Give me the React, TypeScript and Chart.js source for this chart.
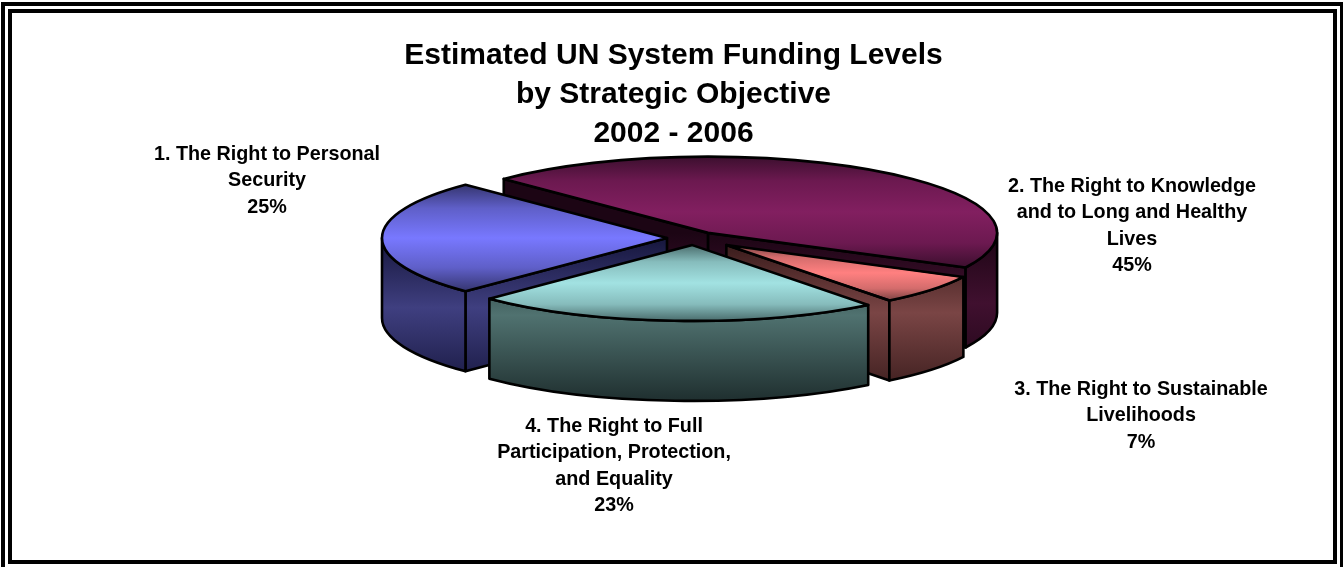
import React, { useEffect, useRef } from "react";
import { Chart, registerables, Plugin } from "chart.js";

Chart.register(...registerables);

const FONT = '"Liberation Sans", Arial, sans-serif';

// Funding shares by strategic objective, percent
const objectives = [
  ["1. The Right to Personal", "Security"],
  ["2. The Right to Knowledge", "and to Long and Healthy", "Lives"],
  ["3. The Right to Sustainable", "Livelihoods"],
  ["4. The Right to Full", "Participation, Protection,", "and Equality"],
];
const shares = [25, 45, 7, 23];
const titleLines = ["Estimated UN System Funding Levels", "by Strategic Objective", "2002 - 2006"];

// Slice styling
const explode = [27, 24, 42, 27];
const radii = [285, 289, 266, 287];
const topBright = ["#7878ff", "#821f60", "#ff8080", "#a2e2e2"];
const topShoulder = ["#5f5fc8", "#6c1950", "#d46c6c", "#86bcbc"];
const topDark = ["#35356f", "#3c0f2e", "#7a4242", "#4a6c6c"];
const wallMid = ["#3f3f80", "#40102f", "#7a4545", "#507270"];
const wallDark = ["#16163c", "#1c0514", "#3a1c1c", "#1f2f2f"];

// Label block centre and first baseline
const labelAt = [
  [267, 160],
  [1132, 192],
  [1141, 395],
  [614, 432],
];
const LABEL_LEADING = 26.4;

// Projection of the flat pie onto the tilted plane
const PIVOT_X = 694;
const PIVOT_Y = 238;
const TILT = 0.264;
const DEPTH = 80;
const ROTATION = 225;
const WALL_ORDER = [1, 0, 2, 3];

const TWO_PI = Math.PI * 2;
const rad = (d: number) => (d * Math.PI) / 180;

function sliceAngles(index: number) {
  const total = shares.reduce((a, b) => a + b, 0);
  let start = rad(ROTATION - 90);
  for (let i = 0; i < index; i++) start += (shares[i] / total) * TWO_PI;
  return { start, end: start + (shares[index] / total) * TWO_PI };
}

function verticalExtent(index: number) {
  const { start, end } = sliceAngles(index);
  const r = radii[index];
  let min = Math.min(0, r * Math.sin(start), r * Math.sin(end));
  let max = Math.max(0, r * Math.sin(start), r * Math.sin(end));
  for (let k = -2; k < 5; k++) {
    const top = -Math.PI / 2 + k * TWO_PI;
    const bottom = Math.PI / 2 + k * TWO_PI;
    if (top > start && top < end) min = -r;
    if (bottom > start && bottom < end) max = r;
  }
  return { min, max };
}

function topFill(ctx: any) {
  const i = ctx.dataIndex;
  const area = ctx.chart.chartArea;
  if (i === undefined || i < 0 || !area) return "#000";
  const cy = (area.top + area.bottom) / 2;
  const { min, max } = verticalExtent(i);
  const g = ctx.chart.ctx.createLinearGradient(0, cy + min, 0, cy + max);
  g.addColorStop(0, topDark[i]);
  g.addColorStop(0.22, topShoulder[i]);
  g.addColorStop(0.5, topBright[i]);
  g.addColorStop(0.78, topShoulder[i]);
  g.addColorStop(1, topDark[i]);
  return g;
}

// Screen-space geometry of a slice's top face, read from its arc element
function faceOf(chart: any, i: number) {
  const arc = chart.getDatasetMeta(0).data[i];
  const { startAngle, endAngle } = arc.getProps(["startAngle", "endAngle"], true);
  const mid = (startAngle + endAngle) / 2;
  const r = radii[i];
  // ArcElement shifts a slice by a quarter of its offset option
  const off = arc.options.offset / 4;
  return {
    x: PIVOT_X + Math.cos(mid) * off,
    y: PIVOT_Y + Math.sin(mid) * off * TILT,
    start: startAngle,
    end: endAngle,
    rx: r,
    ry: r * TILT,
  };
}

const rimPoint = (f: any, a: number) => [f.x + f.rx * Math.cos(a), f.y + f.ry * Math.sin(a)];

function wallFill(c: CanvasRenderingContext2D, f: any, i: number) {
  const top = f.y;
  const g = c.createLinearGradient(0, top, 0, top + f.ry + DEPTH);
  g.addColorStop(0, wallDark[i]);
  g.addColorStop(0.45, wallMid[i]);
  g.addColorStop(1, wallDark[i]);
  return g;
}

function paintWall(c: CanvasRenderingContext2D, fill: CanvasGradient) {
  c.fillStyle = fill;
  c.fill();
  c.strokeStyle = "#000";
  c.lineWidth = 2.6;
  c.lineJoin = "round";
  c.stroke();
}

function drawRadialWall(c: CanvasRenderingContext2D, f: any, angle: number, fill: CanvasGradient) {
  const [px, py] = rimPoint(f, angle);
  c.beginPath();
  c.moveTo(f.x, f.y);
  c.lineTo(px, py);
  c.lineTo(px, py + DEPTH);
  c.lineTo(f.x, f.y + DEPTH);
  c.closePath();
  paintWall(c, fill);
}

function drawOuterWall(c: CanvasRenderingContext2D, f: any, fill: CanvasGradient) {
  // Only the part of the rim facing the viewer (sin > 0) is visible
  for (let k = -1; k < 3; k++) {
    const a0 = Math.max(f.start, k * TWO_PI);
    const a1 = Math.min(f.end, k * TWO_PI + Math.PI);
    if (a1 <= a0) continue;
    c.beginPath();
    c.ellipse(f.x, f.y, f.rx, f.ry, 0, a0, a1);
    c.ellipse(f.x, f.y + DEPTH, f.rx, f.ry, 0, a1, a0, true);
    c.closePath();
    paintWall(c, fill);
  }
}

const piePlugin: Plugin = {
  id: "tiltedPie",
  afterDatasetUpdate(chart: any) {
    chart.getDatasetMeta(0).data.forEach((arc: any, i: number) => {
      // The element adds offset/4 * (1 - sin(sweep)) to its radius when drawn
      const sweep = (shares[i] / 100) * TWO_PI;
      const fix = 1 - Math.sin(Math.min(Math.PI, sweep));
      arc.outerRadius = radii[i] - explode[i] * fix;
    });
  },
  beforeDraw(chart: any) {
    // Double frame round the page; the outer line runs past the bottom edge
    const c = chart.ctx;
    c.save();
    c.fillStyle = "#fff";
    c.fillRect(0, 0, chart.width, chart.height);
    c.strokeStyle = "#000";
    c.lineWidth = 4;
    c.strokeRect(3, 4, 1339, 570);
    c.strokeRect(10, 11, 1325, 551);
    c.restore();
  },
  beforeDatasetsDraw(chart: any) {
    const c = chart.ctx;
    c.save();
    WALL_ORDER.forEach((i) => {
      const f = faceOf(chart, i);
      const fill = wallFill(c, f, i);
      if (Math.cos(f.start) < 0) drawRadialWall(c, f, f.start, fill);
      if (Math.cos(f.end) > 0) drawRadialWall(c, f, f.end, fill);
      drawOuterWall(c, f, fill);
    });
    c.restore();
    // The flat arcs are squashed onto the tilted plane while the library draws them
    const arc = chart.getDatasetMeta(0).data[0];
    c.save();
    c.translate(PIVOT_X, PIVOT_Y);
    c.scale(1, TILT);
    c.translate(-arc.x, -arc.y);
  },
  afterDatasetsDraw(chart: any) {
    const c = chart.ctx;
    c.restore();
    c.save();
    // Outlines are stroked untransformed so the pen keeps an even width
    shares.forEach((_, i) => {
      const f = faceOf(chart, i);
      c.beginPath();
      c.moveTo(f.x, f.y);
      c.ellipse(f.x, f.y, f.rx, f.ry, 0, f.start, f.end);
      c.closePath();
      c.strokeStyle = "#000";
      c.lineWidth = 2.6;
      c.lineJoin = "round";
      c.stroke();
    });
    c.fillStyle = "#000";
    c.font = `bold 19.75px ${FONT}`;
    c.textAlign = "center";
    c.textBaseline = "alphabetic";
    objectives.forEach((lines, i) => {
      const [x, y] = labelAt[i];
      [...lines, `${shares[i]}%`].forEach((text, n) => {
        c.fillText(text, x, y + n * LABEL_LEADING);
      });
    });
    c.restore();
  },
};

export default function App() {
  const ref = useRef<HTMLCanvasElement>(null);
  useEffect(() => {
    const chart = new Chart(ref.current as HTMLCanvasElement, {
      type: "pie",
      data: {
        labels: objectives.map((l) => l.join(" ")),
        datasets: [
          {
            data: shares,
            backgroundColor: topFill as any,
            borderWidth: 0,
            offset: explode.map((o) => o * 4),
            clip: false as any,
          } as any,
        ],
      },
      options: {
        responsive: false,
        animation: false,
        rotation: ROTATION,
        radius: 289,
        layout: { padding: { left: 4 } },
        plugins: {
          legend: { display: false },
          tooltip: { enabled: false },
          title: {
            display: true,
            text: titleLines,
            color: "#000",
            font: { family: FONT, size: 30, weight: "bold", lineHeight: 1.3 },
            padding: { top: 36, bottom: 0 },
          },
        },
      },
      plugins: [piePlugin],
    });
    return () => chart.destroy();
  }, []);
  return (
    <canvas
      ref={ref}
      width={1343}
      height={567}
      style={{ position: "absolute", left: 0, top: 0, display: "block" }}
    />
  );
}
